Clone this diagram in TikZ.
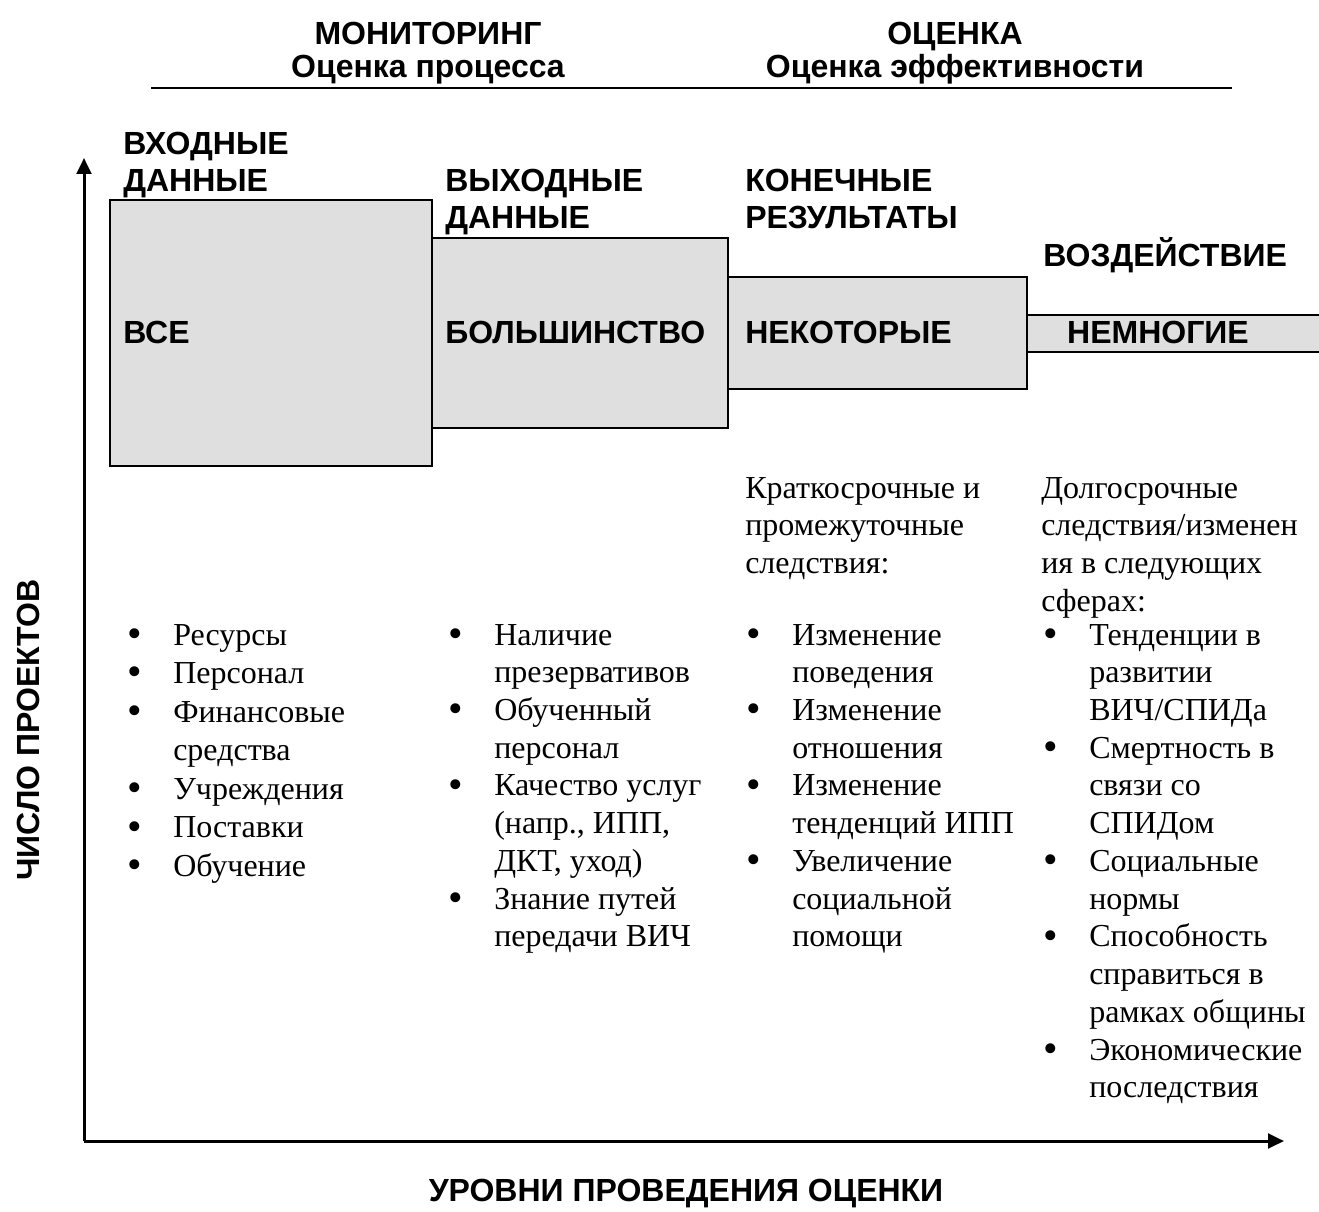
\documentclass[tikz,border=0pt]{standalone}
\usepackage{fontspec}
\setmainfont{Liberation Serif}
\newfontfamily\hdrfont{Liberation Sans}
\usetikzlibrary{arrows.meta}
\definecolor{boxgray}{HTML}{DFDFDF}
\newcommand\blt[1]{\makebox[#1][l]{\raisebox{-1.8pt}{\scalebox{1.3}{\textbullet}}}}
\begin{document}
\begin{tikzpicture}[x=0.75pt,y=-0.75pt,
  hd/.style={font=\hdrfont\bfseries\fontsize{24}{27.75}\selectfont, inner sep=0pt},
  bx/.style={draw=black, line width=1.5pt, fill=boxgray},
  body/.style={font=\fontsize{24}{28.3}\selectfont, inner sep=0pt, anchor=base west},
  axis/.style={line width=2.25pt, -{Triangle[length=12pt,width=11pt]}}
]
\useasboundingbox (0,0) rectangle (1319,1212);

% header
\node[hd, anchor=base] (mon) at (428,45) {МОНИТОРИНГ};
\node[hd, anchor=base] (monsub) at (428,78) {Оценка процесса};
\node[hd, anchor=base] (oc) at (955,45) {ОЦЕНКА};
\node[hd, anchor=base] (ocsub) at (955,78) {Оценка эффективности};
\draw[line width=1.5pt] (151,88) -- (1232,88);

% axes
\coordinate (orig) at (84,1141);
\coordinate (ytip) at (84,158);
\coordinate (xtip) at (1284,1141);
\draw[axis] (orig) -- (ytip);
\draw[axis] (orig) -- (xtip);
\node[hd, rotate=90, anchor=base] (ylab) at (39,730) {ЧИСЛО ПРОЕКТОВ};
\node[hd, anchor=base] (xlab) at (686,1201) {УРОВНИ ПРОВЕДЕНИЯ ОЦЕНКИ};

% boxes
\draw[bx] (110,200) rectangle (432,466);
\draw[bx] (432,238) rectangle (728,428);
\draw[bx] (728,277) rectangle (1027,389);
\fill[boxgray] (1027,315) rectangle (1319,352);
\draw[line width=1.5pt] (1320,315) -- (1027,315) -- (1027,352) -- (1320,352);

% box labels
\node[hd, anchor=base west] (all) at (123,344) {ВСЕ};
\node[hd, anchor=base west] (most) at (445,344) {БОЛЬШИНСТВО};
\node[hd, anchor=base west] (some) at (745,344) {НЕКОТОРЫЕ};
\node[hd, anchor=base] (few) at (1158,344) {НЕМНОГИЕ};

% column headings
\node[hd, anchor=base west] (inp) at (123,155) {\begin{tabular}[t]{@{}l@{}}ВХОДНЫЕ\\ДАННЫЕ\end{tabular}};
\node[hd, anchor=base west] (outp) at (445,192) {\begin{tabular}[t]{@{}l@{}}ВЫХОДНЫЕ\\ДАННЫЕ\end{tabular}};
\node[hd, anchor=base west] (res) at (745,192) {\begin{tabular}[t]{@{}l@{}}КОНЕЧНЫЕ\\РЕЗУЛЬТАТЫ\end{tabular}};
\node[hd, anchor=base west] (imp) at (1043,267) {ВОЗДЕЙСТВИЕ};

% column texts
\node[body] (c3h) at (745,498) {\begin{tabular}[t]{@{}l@{}}Краткосрочные и\\промежуточные\\следствия:\end{tabular}};
\node[body] (c4h) at (1041,498) {\begin{tabular}[t]{@{}l@{}}Долгосрочные\\следствия/изменен\\ия в следующих\\сферах:\end{tabular}};

\node[body, font=\fontsize{24}{28.9}\selectfont] (c1) at (127,645) {\begin{tabular}[t]{@{}l@{}l@{}}
\blt{34.5pt}&Ресурсы\\
\blt{34.5pt}&Персонал\\
\blt{34.5pt}&Финансовые\\
&средства\\
\blt{34.5pt}&Учреждения\\
\blt{34.5pt}&Поставки\\
\blt{34.5pt}&Обучение
\end{tabular}};

\node[body] (c2) at (448,645) {\begin{tabular}[t]{@{}l@{}l@{}}
\blt{34.5pt}&Наличие\\
&презервативов\\
\blt{34.5pt}&Обученный\\
&персонал\\
\blt{34.5pt}&Качество услуг\\
&(напр., ИПП,\\
&ДКТ, уход)\\
\blt{34.5pt}&Знание путей\\
&передачи ВИЧ
\end{tabular}};

\node[body] (c3) at (746,645) {\begin{tabular}[t]{@{}l@{}l@{}}
\blt{34.5pt}&Изменение\\
&поведения\\
\blt{34.5pt}&Изменение\\
&отношения\\
\blt{34.5pt}&Изменение\\
&тенденций ИПП\\
\blt{34.5pt}&Увеличение\\
&социальной\\
&помощи
\end{tabular}};

\node[body] (c4) at (1043,645) {\begin{tabular}[t]{@{}l@{}l@{}}
\blt{34.5pt}&Тенденции в\\
&развитии\\
&ВИЧ/СПИДа\\
\blt{34.5pt}&Смертность в\\
&связи со\\
&СПИДом\\
\blt{34.5pt}&Социальные\\
&нормы\\
\blt{34.5pt}&Способность\\
&справиться в\\
&рамках общины\\
\blt{34.5pt}&Экономические\\
&последствия
\end{tabular}};
\end{tikzpicture}
\end{document}
